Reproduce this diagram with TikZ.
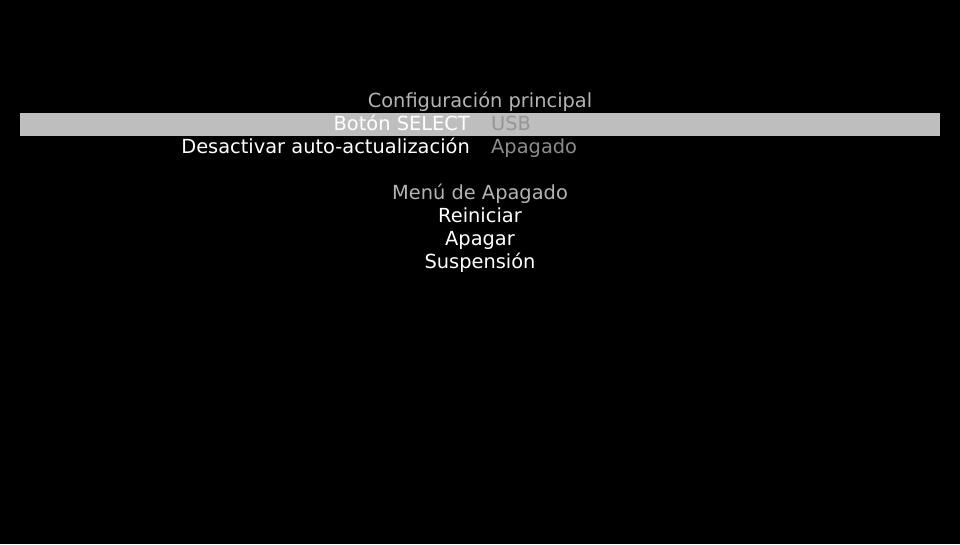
\documentclass[tikz,border=0pt]{standalone}
\usepackage{fontspec}
\newfontfamily\vitafont{DejaVu Sans}
\definecolor{headcol}{RGB}{180,180,180}
\definecolor{barcol}{RGB}{190,190,190}
\definecolor{valcol}{RGB}{150,150,150}
\definecolor{offcol}{RGB}{140,140,140}

\begin{document}
\begin{tikzpicture}[x=1pt, y=-1pt, every node/.style={font=\vitafont\fontsize{19.4}{23}\selectfont, inner sep=0pt, text=white}]

\fill[black] (0,0) rectangle (960,544);
\fill[barcol] (20,113) rectangle (940,136);

\coordinate (lab) at (470,0);
\coordinate (val) at (491,0);

\node[anchor=base, text=headcol] (conf) at (480,107.5) {Configuración principal};
\node[anchor=base east] (select) at (lab |- 0,130.5) {Botón SELECT};
\node[anchor=base west, text=valcol] (usb) at (val |- 0,130.5) {USB};
\node[anchor=base east] (auto) at (lab |- 0,153.5) {Desactivar auto-actualización};
\node[anchor=base west, text=offcol] (off) at (val |- 0,153.5) {Apagado};

\node[anchor=base, text=headcol] (power) at (480,199.5) {Menú de Apagado};
\foreach \t [count=\i] in {Reiniciar,Apagar,Suspensión}
   {
	\node[anchor=base] (item\i) at (480,199.5+23*\i) {\t};
   };
\end{tikzpicture}
\end{document}
